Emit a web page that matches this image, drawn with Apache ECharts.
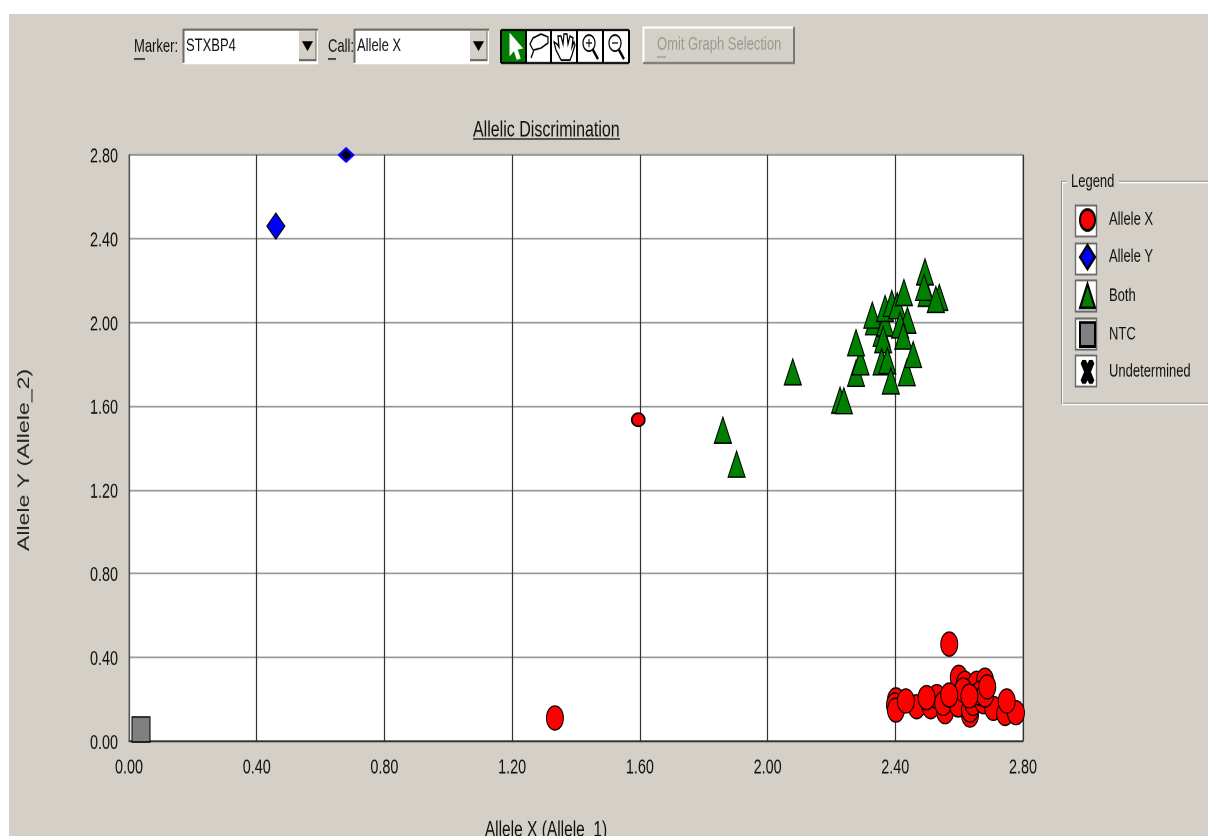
<!DOCTYPE html>
<html><head><meta charset="utf-8">
<style>html,body{margin:0;padding:0;background:#fff;overflow:hidden}
#bg{position:absolute;left:9px;top:14px;width:1199px;height:822px;background:#d4d0c8}
#c{position:absolute;left:0;top:0;width:1208px;height:597.143px;transform:scaleY(1.4);transform-origin:0 0}</style>
<script src="https://cdn.jsdelivr.net/npm/echarts@6/dist/echarts.min.js"></script>
</head><body><div id="bg"></div><div id="c"></div>
<script>
const font = '"Liberation Sans",sans-serif';
const axisTicks = ['0.00','0.40','0.80','1.20','1.60','2.00','2.40','2.80'];
const alleleX = [[1.334,0.11],[2.569,0.463],[2.599,0.304],[2.402,0.196],[2.399,0.172],[2.402,0.148],[2.467,0.164],[2.511,0.164],[2.530,0.212],[2.556,0.140],[2.550,0.180],[2.597,0.172],[2.634,0.124],[2.634,0.148],[2.618,0.276],[2.655,0.276],[2.681,0.291],[2.613,0.244],[2.644,0.180],[2.676,0.188],[2.665,0.228],[2.707,0.156],[2.681,0.220],[2.744,0.132],[2.778,0.135],[2.749,0.191],[2.433,0.191],[2.498,0.207],[2.569,0.220],[2.632,0.215],[2.688,0.259]];
const alleleXSelected = [[1.595,1.535]];
const alleleY = [[0.46,2.46]];
const alleleYSelected = [[0.68,2.80]];
const both = [[1.860,1.486],[1.903,1.323],[2.079,1.764],[2.227,1.629],[2.239,1.626],[2.277,1.757],[2.291,1.812],[2.277,1.903],[2.333,2.003],[2.328,2.035],[2.357,1.948],[2.368,1.997],[2.368,2.067],[2.389,2.091],[2.406,2.080],[2.427,2.143],[2.498,2.139],[2.493,2.242],[2.490,2.168],[2.538,2.120],[2.527,2.110],[2.438,2.011],[2.415,1.988],[2.425,1.935],[2.362,1.918],[2.357,1.812],[2.375,1.817],[2.386,1.721],[2.436,1.760],[2.456,1.847]];
const ntc = [[0.0376,0.055]];
const undetermined = [];
const legendNames = ['Allele X','Allele Y','Both','NTC','Undetermined'];
const xPath = 'path://M2 0L6 0L8 3L10 0L14 0L16 3L12 10L16 17L14 20L10 20L8 17L6 20L2 20L0 17L4 10L0 3Z';

const k = 1.4, Y = v => v / k;
const bg = '#d4d0c8';
const rect = (x,y,w,h,fill,stroke,lw) => ({type:'rect',z:1,silent:true,shape:{x,y:Y(y),width:w,height:Y(h)},style:{fill:fill||'none',stroke:stroke||'none',lineWidth:lw||1}});
const line = (x1,y1,x2,y2,stroke,lw,z) => ({type:'line',z:z||2,silent:true,shape:{x1,y1:Y(y1),x2,y2:Y(y2)},style:{stroke,lineWidth:lw||1}});
const text = (x,y,s,fill) => ({type:'text',z:3,silent:true,x,y:Y(y),style:{text:s,fontFamily:font,fontSize:13,fill:fill||'#111',verticalAlign:'middle'}});
const mapP = p => p.map(q => [q[0],Y(q[1])]);
const poly = (pts,fill,stroke,lw) => ({type:'polygon',z:3,silent:true,shape:{points:mapP(pts)},style:{fill:fill||'none',stroke:stroke||'#000',lineWidth:lw||1.2}});
const pline = (pts,stroke,lw) => ({type:'polyline',z:3,silent:true,shape:{points:mapP(pts)},style:{fill:'none',stroke:stroke||'#000',lineWidth:lw||1.2}});
const ring = (cx,cy,rx,ry) => ({type:'ellipse',z:3,silent:true,shape:{cx,cy:Y(cy),rx,ry:Y(ry)},style:{fill:'#fff',stroke:'#000',lineWidth:1.2}});

function combo(x,w,label){
  return [
    rect(x,29,w,34,'#fff'),
    line(x,29.5,x+w,29.5,'#6c6a65',1.5), line(x+.5,29,x+.5,63,'#6c6a65',2),
    line(x,63.5,x+w,63.5,'#fff',1),
    rect(x+w-19,31,17,30,bg), line(x+w-19,60,x+w-2,60,'#666',1.5), line(x+w-2,31,x+w-2,61,'#666',1),
    poly([[x+w-15,42],[x+w-6,42],[x+w-10.5,50]],'#000','#000',1),
    text(x+3,46,label)
  ];
}
const icons = [
  rect(501,30,128,33,'#fff'),
  rect(501,30,25,33,'#007a00'),
  line(501,30,629,30,'#000',1.5), line(501,63,629,63,'#000',1.5),
  line(501,30,501,63,'#000',2), line(526,30,526,63,'#000',2), line(551,30,551,63,'#000',2), line(577,30,577,63,'#000',2), line(603,30,603,63,'#000',2), line(629,30,629,63,'#000',2),
  poly([[510,34],[510,55],[514,50],[517,59],[520,58],[517,49],[522,48]],'#fff','#fff',1),
  pline([[533,50],[530,44],[533,38],[541,34],[548,37],[548,43],[541,48],[534,50],[531,58]]),
  pline([[561,60],[556,50],[554,42],[557,44],[559,47],[558,36],[561,36],[563,44],[564,34],[567,34],[568,44],[570,36],[573,38],[572,47],[574,42],[575,45],[572,55],[570,60],[561,60]]),
  line(593,50,598,59,'#000',2.2), ring(589,43,6,8), line(586,43,592,43,'#000',1,4), line(589,39,589,47,'#000',1,4),
  line(619,50,624,59,'#000',2.2), ring(615,43,6,8), line(612,43,618,43,'#000',1,4)
];
const toolbar = [
  text(134,47,'Marker:'), line(134,59,145,59,'#111',1),
  ...combo(183,135,'STXBP4'),
  text(328,47,'Call:'), line(328,59,336,59,'#111',1),
  ...combo(354,135,'Allele X'),
  ...icons,
  rect(643,27,151,36,bg),
  line(643,27.5,794,27.5,'#fff',1.5), line(643.5,27,643.5,63,'#fff',2),
  line(643,63,794,63,'#777',1.5), line(794,27,794,64,'#777',2),
  text(657,45,'Omit Graph Selection','#9b9993'), line(657,57,666,57,'#9b9993',1)
];
const cellTops = [205,243,280,318,355];
const legendBox = [
  rect(1061.5,181.5,160,222,'none','#8e8c86',1),
  rect(1062.5,182.5,160,222,'none','#fff',1),
  rect(1067,174,52,16,bg),
  text(1071,182,'Legend'),
  ...cellTops.map(t => rect(1075.5,t+.5,21,31,'#fff','#6a6a6a',1.4))
];
const titleLine = line(473,139,620,139,'#111',1);
const chart = echarts.init(document.getElementById('c'),null,{renderer:'canvas',devicePixelRatio:2});
const sym = {borderColor:'#000',borderWidth:1,opacity:1};
chart.setOption({
  animation:false,
  backgroundColor:'transparent',
  title:{text:'Allelic Discrimination',left:473,top:Y(119),textStyle:{fontFamily:font,fontSize:16,fontWeight:'normal',color:'#111'},padding:0},
  legend:{orient:'vertical',left:1079,top:Y(208),itemWidth:15,itemHeight:Y(24),itemGap:8.5,padding:0,selectedMode:false,
    data:legendNames,textStyle:{fontFamily:font,fontSize:13,color:'#111',padding:[0,0,0,9]}},
  grid:{left:129,top:Y(155),width:894,height:Y(586),show:true,backgroundColor:'#fff',borderColor:'#666',borderWidth:1,outerBoundsMode:'none',containLabel:false},
  xAxis:{type:'value',min:0,max:2.8,interval:0.4,name:'Allele X (Allele_1)',nameLocation:'middle',nameGap:Y(78),
    nameTextStyle:{fontFamily:font,fontSize:15.5,color:'#111',padding:[0,60,0,0]},
    axisLine:{show:true,lineStyle:{color:'#333',width:1.2}},axisTick:{show:false},
    axisLabel:{margin:Y(17),fontFamily:font,fontSize:14.4,color:'#111',formatter:v=>axisTicks[Math.round(v/0.4)]},
    splitLine:{show:true,lineStyle:{color:'#333',width:1.2}}},
  yAxis:{type:'value',min:0,max:2.8,interval:0.4,name:'Allele Y (Allele_2)',nameLocation:'middle',nameGap:96,
    nameTextStyle:{fontFamily:font,fontSize:16.5,color:'#222',padding:[0,Y(24),0,0]},
    axisLine:{show:true,lineStyle:{color:'#555',width:1}},axisTick:{show:false},
    axisLabel:{margin:11,formatter:v=>'{t|'+axisTicks[Math.round(v/0.4)]+'}',
      rich:{t:{fontFamily:font,fontSize:14.4,color:'#111',padding:[3,0,0,0]}}},
    splitLine:{show:true,lineStyle:{color:'#999',width:1.2}}},
  graphic:[{type:'group',silent:true,children:[...toolbar,...legendBox,titleLine]}],
  series:[
    {name:'Allele X',type:'scatter',clip:false,symbol:'circle',symbolSize:[17,Y(24)],data:alleleX,z:3,itemStyle:{color:'#ff0000',...sym}},
    {name:'Allele X',type:'scatter',clip:false,symbol:'circle',symbolSize:[13,Y(13)],data:alleleXSelected,z:3,itemStyle:{color:'#ff0000',...sym,borderWidth:1.5}},
    {name:'Allele Y',type:'scatter',clip:false,symbol:'diamond',symbolSize:[18,Y(26)],data:alleleY,z:3,itemStyle:{color:'#0000ff',...sym}},
    {name:'Allele Y',type:'scatter',clip:false,symbol:'diamond',symbolSize:[14,Y(13)],data:alleleYSelected,z:3,itemStyle:{color:'#000',opacity:1,borderColor:'#0000ff',borderWidth:2}},
    {name:'Both',type:'scatter',clip:false,symbol:'triangle',symbolSize:[17,Y(26)],data:both,z:3,itemStyle:{color:'#008000',...sym}},
    {name:'NTC',type:'scatter',clip:false,symbol:'rect',symbolSize:[18,Y(25)],data:ntc,z:3,itemStyle:{color:'#808080',...sym}},
    {name:'Undetermined',type:'scatter',clip:false,symbol:xPath,symbolSize:[16,Y(22)],data:undetermined,z:3,itemStyle:{color:'#000',opacity:1,borderColor:'#000'}}
  ]
});
</script></body></html>
